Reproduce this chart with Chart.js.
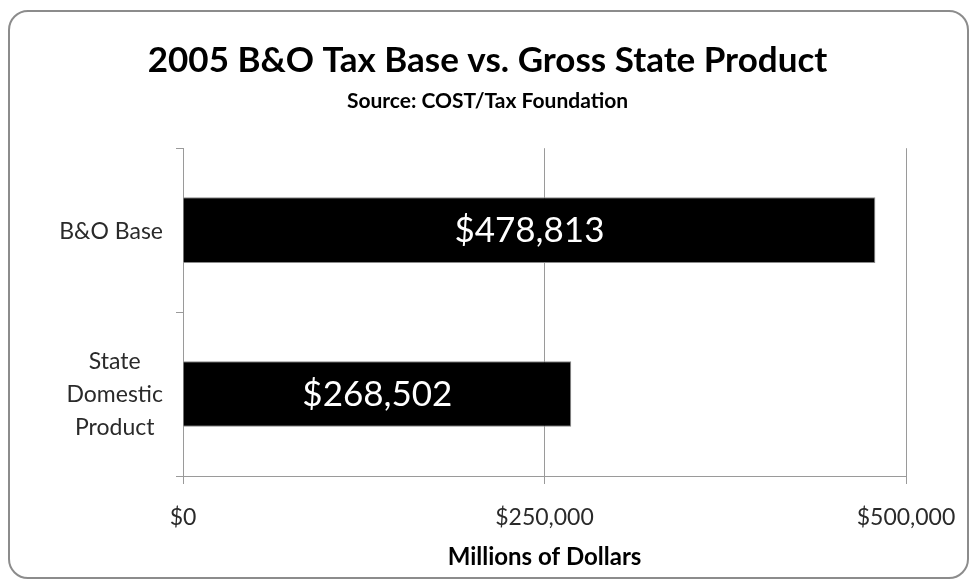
<!DOCTYPE html>
<html>
<head>
<meta charset="utf-8">
<script src="https://cdn.jsdelivr.net/npm/chart.js@4/dist/chart.umd.min.js"></script>
<style>
  html, body { margin: 0; padding: 0; background: #fff; }
  #wrap { position: relative; width: 975px; height: 582px; }
  #frame {
    position: absolute; left: 8px; top: 10px; width: 957px; height: 565px;
    border: 2px solid #8c8c8c; border-radius: 20px; pointer-events: none;
  }
</style>
</head>
<body>
<div id="wrap">
  <canvas id="chart" width="975" height="582"></canvas>
  <div id="frame"></div>
</div>
<script>
const FONT = 'Lato, "Open Sans", sans-serif';

const categories = [['B&O Base'], ['State', 'Domestic', 'Product']];
const values     = [478813, 268502];
const xTicks     = [0, 250000, 500000];

const money = v => '$' + Number(v).toLocaleString('en-US');

// value labels inside the bars
const barLabels = {
  id: 'barLabels',
  afterDatasetsDraw(chart) {
    const ctx = chart.ctx;
    const meta = chart.getDatasetMeta(0);
    ctx.save();
    ctx.fillStyle = '#fff';
    ctx.font = '35px ' + FONT;
    ctx.textAlign = 'center';
    ctx.textBaseline = 'middle';
    meta.data.forEach((bar, i) => {
      ctx.fillText(money(values[i]), (bar.x + bar.base) / 2, bar.y + 1);
    });
    ctx.restore();
  }
};

// category labels: block right-aligned, lines centred inside the block
const catLabels = {
  id: 'catLabels',
  afterDraw(chart) {
    const ctx = chart.ctx;
    const y = chart.scales.y;
    const right = y.right - 20;
    const lh = 33;
    ctx.save();
    ctx.fillStyle = '#2a2a2a';
    ctx.font = '23px ' + FONT;
    ctx.textAlign = 'center';
    ctx.textBaseline = 'middle';
    categories.forEach((lines, i) => {
      const w = Math.max(...lines.map(l => ctx.measureText(l).width));
      const cx = right - w / 2;
      const cy = y.getPixelForValue(i);
      lines.forEach((l, j) => {
        ctx.fillText(l, cx, cy + 1 + (j - (lines.length - 1) / 2) * lh);
      });
    });
    ctx.restore();
  }
};

new Chart(document.getElementById('chart'), {
  type: 'bar',
  data: {
    labels: categories,
    datasets: [{
      data: values,
      backgroundColor: '#000',
      borderColor: '#8a8a8a',
      borderWidth: 1,
      barPercentage: 0.4,
      categoryPercentage: 1,
    }],
  },
  options: {
    indexAxis: 'y',
    responsive: false,
    animation: false,
    layout: { padding: { left: 69, right: 69, top: 0, bottom: 0 } },
    plugins: {
      legend: { display: false },
      tooltip: { enabled: false },
      title: {
        display: true,
        text: '2005 B&O Tax Base vs. Gross State Product',
        color: '#000',
        font: { family: FONT, size: 35, weight: 'bold' },
        padding: { top: 40, bottom: 7 },
      },
      subtitle: {
        display: true,
        text: 'Source: COST/Tax Foundation',
        color: '#000',
        font: { family: FONT, size: 21, weight: 'bold' },
        padding: { top: 0, bottom: 34 },
      },
    },
    scales: {
      x: {
        min: 0,
        max: 500000,
        afterBuildTicks: s => { s.ticks = xTicks.map(v => ({ value: v })); },
        afterFit: s => { s.height = 106; s.paddingLeft = 0; s.paddingRight = 0; },
        ticks: {
          color: '#2a2a2a',
          font: { family: FONT, size: 23 },
          padding: 20,
          maxRotation: 0,
          callback: v => money(v),
        },
        grid: { color: '#9a9a9a', lineWidth: 1, tickLength: 8 },
        border: { color: '#9a9a9a', width: 1 },
        title: {
          display: true,
          text: 'Millions of Dollars',
          color: '#000',
          font: { family: FONT, size: 24, weight: 'bold' },
          padding: { top: 0, bottom: 10 },
        },
      },
      y: {
        afterFit: s => { s.width = 114; },
        ticks: { color: 'rgba(0,0,0,0)', font: { family: FONT, size: 21 } },
        grid: { offset: true, drawOnChartArea: false, color: '#9a9a9a', tickLength: 7 },
        border: { color: '#9a9a9a', width: 1 },
      },
    },
  },
  plugins: [barLabels, catLabels],
});
</script>
</body>
</html>
